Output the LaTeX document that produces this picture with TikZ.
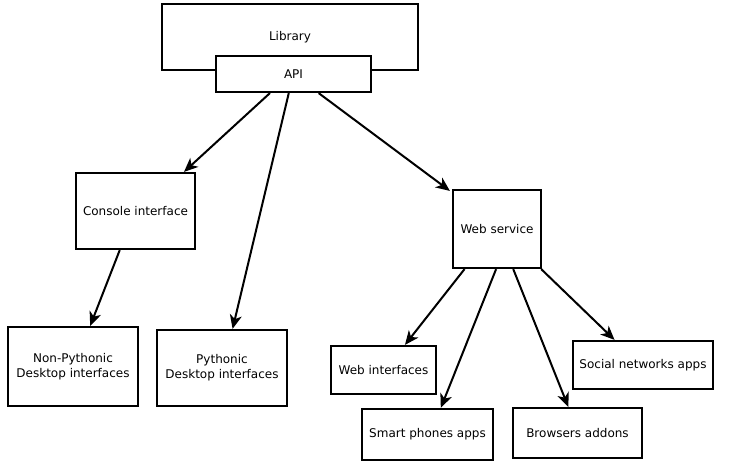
\documentclass[tikz,border=0pt]{standalone}
\usepackage{fontspec}
\setmainfont{DejaVu Sans}
\usetikzlibrary{arrows.meta,calc}
\begin{document}
\begin{tikzpicture}[x=1pt,y=-1pt,
  box/.style={draw=black,line width=2.2pt,fill=white,inner sep=0pt,align=center,
    font=\fontsize{12}{15}\selectfont},
  conn/.style={line width=2pt,-{Stealth[length=14pt,width=12pt,inset=4pt]}}]
\useasboundingbox[fill=white] (0,0) rectangle (731,463);
\node[box,minimum width=256pt,minimum height=66pt] (lib) at (290,37) {Library};
\node[box,minimum width=155pt,minimum height=36pt] (api) at (293.5,74) {API};
\node[box,minimum width=119pt,minimum height=76pt] (con) at (135.5,211) {Console interface};
\node[box,minimum width=130pt,minimum height=79pt] (npy) at (73,366.5) {Non-Pythonic\\Desktop interfaces};
\node[box,minimum width=130pt,minimum height=76pt] (py) at (222,368) {Pythonic\\Desktop interfaces};
\node[box,minimum width=88pt,minimum height=78pt] (ws) at (497,229) {Web service};
\node[box,minimum width=105pt,minimum height=48pt] (wi) at (383.5,370) {Web interfaces};
\node[box,minimum width=131pt,minimum height=51pt] (sp) at (427.5,434.5) {Smart phones apps};
\node[box,minimum width=129pt,minimum height=50pt] (ba) at (577.5,433) {Browsers addons};
\node[box,minimum width=140pt,minimum height=48pt] (sn) at (643,365) {Social networks apps};
\draw[conn] ($(api.south west)!0.35!(api.south east)$) -- ($(con.north west)!0.9!(con.north east)$);
\draw[conn] ($(api.south west)!0.47!(api.south east)$) -- ($(py.north west)!0.58!(py.north east)$);
\draw[conn] ($(api.south west)!0.66!(api.south east)$) -- ($(ws.north west)+(-2,2)$);
\draw[conn] ($(con.south west)!0.37!(con.south east)$) -- ($(npy.north west)!0.63!(npy.north east)$);
\draw[conn] ($(ws.south west)!0.14!(ws.south east)$) -- ($(wi.north west)!0.7!(wi.north east)$);
\draw[conn] ($(ws.south west)!0.49!(ws.south east)$) -- ($(sp.north west)!0.6!(sp.north east)$);
\draw[conn] ($(ws.south west)!0.68!(ws.south east)$) -- ($(ba.north west)!0.43!(ba.north east)$);
\draw[conn] ($(ws.south west)!0.99!(ws.south east)$) -- ($(sn.north west)!0.3!(sn.north east)$);
\end{tikzpicture}
\end{document}
